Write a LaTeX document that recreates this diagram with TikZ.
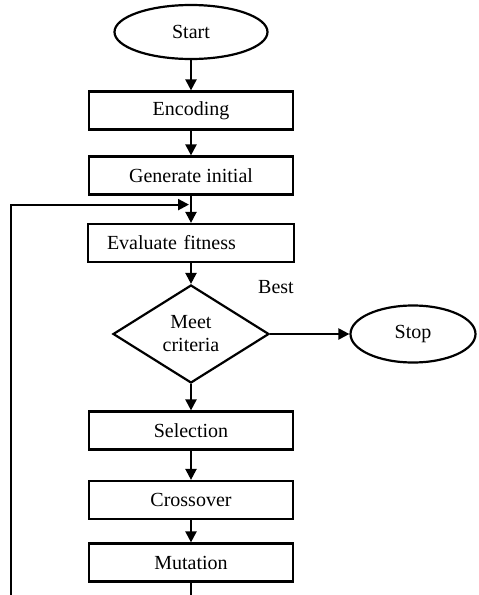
\documentclass[tikz,border=0pt]{standalone}
\usepackage{fontspec}
\setmainfont{Liberation Serif}
\usepackage{tikz}
\usetikzlibrary{positioning}
\usetikzlibrary{arrows.meta,shapes.geometric}

\tikzset{
  block/.style={draw,line width=1.1pt,rectangle,minimum width=102pt,minimum height=19pt,inner sep=2pt},
  term/.style={draw,line width=1.1pt,ellipse,inner sep=0pt},
  decide/.style={draw,line width=1.1pt,diamond,minimum width=78pt,minimum height=49pt,inner sep=0pt,align=center},
  flow/.style={line width=1.1pt,->}
}

\begin{document}
\begin{tikzpicture}[node distance=35pt,on grid,>={Triangle[length=5.5pt,width=5.5pt]},font=\fontsize{10}{11.5}\selectfont]
   \useasboundingbox (0,0) rectangle (239pt,-297.5pt);
   \node[term,minimum width=76.5pt,minimum height=27pt] (start) at (95.5pt,-16pt) {Start};
   \node[block] (encoding) [below=39.25pt of start] {Encoding};
   \node[block] (generate) [below=32.5pt of encoding] {Generate initial};
   \node[block,text width=84pt,align=left,inner xsep=9.5pt] (evaluate) [below=33.75pt of generate] {Evaluate fitness};
   \node[decide] (criteria) [below=45.5pt of evaluate] {Meet\\criteria};
   \node[term,minimum width=62.5pt,minimum height=28.5pt] (stop) [right=111pt of criteria] {Stop};
   \node (best) [above right=23.5pt and 42.5pt of criteria] {Best};
   \node[block] (selection) [below=48.25pt of criteria] {Selection};
   \node[block] (crossover) [below=34.75pt of selection] {Crossover};
   \node[block] (mutation) [below=31.25pt of crossover] {Mutation};
   % loop back into the population
   \coordinate[below=4.5pt of generate.south] (join);
   \coordinate (mutout) at (mutation.south |- 0,-297.5pt);
   \coordinate (back) at (5.5pt,-297.5pt);
   \draw[flow] (start) -- (encoding);
   \draw[flow] (encoding) -- (generate);
   \draw[flow] (generate) -- (evaluate);
   \draw[flow] (evaluate) -- (criteria);
   \draw[flow] (criteria) -- (stop);
   \draw[flow] (criteria) -- (selection);
   \draw[flow] (selection) -- (crossover);
   \draw[flow] (crossover) -- (mutation);
   \draw[line width=1.1pt] (mutation) -- (mutout);
   \draw[flow,shorten >=1pt] (back) |- (join);
\end{tikzpicture}
\end{document}
